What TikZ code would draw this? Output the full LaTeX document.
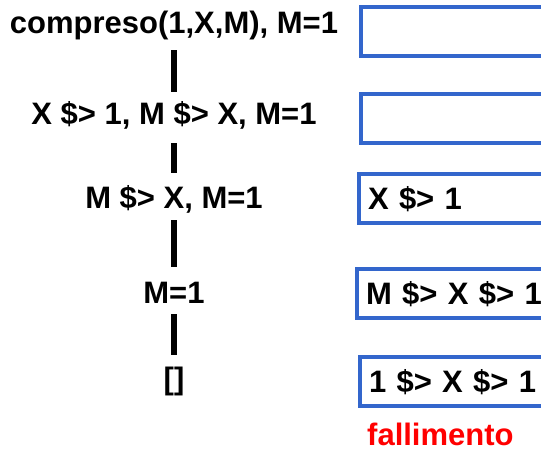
\documentclass[tikz,border=0pt]{standalone}
\usepackage{fontspec}
\setmainfont{Liberation Sans}
\definecolor{boxblue}{HTML}{3366CC}
\definecolor{failred}{HTML}{FF0000}
\begin{document}
\begin{tikzpicture}[x=1pt,y=-1pt,
  every node/.style={font=\fontsize{31}{37}\selectfont\bfseries},
  goal/.style={inner sep=0pt, text height=22pt, text depth=6pt, anchor=base},
  store/.style={draw=boxblue, line width=4pt, anchor=west,
    minimum height=49pt, inner ysep=0pt, inner xsep=9pt, text width=300pt,
    align=left, text height=24pt, text depth=2pt},
  branch/.style={line width=6pt}]
\clip (0,0) rectangle (541,450);
% derivation goals
\node[goal] (g1) at (174,33)  {compreso(1,X,M), M=1};
\node[goal] (g2) at (174,124) {X \$> 1, M \$> X, M=1};
\node[goal] (g3) at (174,208) {M \$> X, M=1};
\node[goal] (g4) at (174,303) {M=1};
\node[goal] (g5) at (174,389) {[]};
% branches between successive goals
\draw[branch, shorten <=11pt, shorten >=10pt] (g1.south) -- (g2.north);
\draw[branch, shorten <=13pt, shorten >=13pt] (g2.south) -- (g3.north);
\draw[branch, shorten <=6pt,  shorten >=14pt] (g3.south) -- (g4.north);
\draw[branch, shorten <=5pt,  shorten >=12pt] (g4.south) -- (g5.north);
% constraint stores
\node[store] (s1) at (359,31)    {};
\node[store] (s2) at (359,118)   {};
\node[store] (s3) at (357,198.5) {X \$> 1};
\node[store] (s4) at (355,293)   {M \$> X \$> 1};
\node[store] (s5) at (358,381)   {1 \$> X \$> 1};
\node[anchor=base west, inner sep=0pt, text=failred] (fail) at (367,445) {fallimento};
\end{tikzpicture}
\end{document}
